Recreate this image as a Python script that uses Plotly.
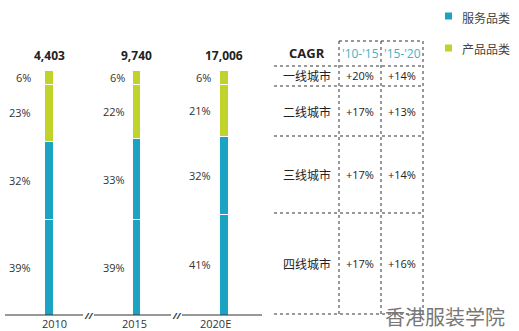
import plotly.graph_objects as go

# ---- data ----
years = ["2010", "2015", "2020E"]
totals = ["4,403", "9,740", "17,006"]
# shares from the bottom of each bar upward
share_seg1 = [39, 39, 41]   # 服务品类 (lower)
share_seg2 = [32, 33, 32]   # 服务品类 (upper)
share_seg3 = [23, 22, 21]   # 产品品类 (lower)
share_seg4 = [6, 6, 6]      # 产品品类 (upper)

cities = ["一线城市", "二线城市", "三线城市", "四线城市"]
cagr_10_15 = ["+20%", "+17%", "+17%", "+17%"]
cagr_15_20 = ["+14%", "+13%", "+14%", "+16%"]
period_labels = ["'10-'15", "'15-'20"]
legend_names = ["服务品类", "产品品类"]

# ---- style ----
W, H = 519, 331
TEAL = "#1aa3c2"
GREEN = "#c0d32a"
TEAL_TXT = "#3fb4c6"
INK = "#222222"
LATIN = "Open Sans, Noto Sans CJK SC, sans-serif"
CJK = "Noto Sans CJK SC, sans-serif"


def px(x):
    return x / W


def py(y):
    return 1 - y / H


def note(x, y, text, font, xanchor="center", yanchor="middle", **kw):
    return dict(x=px(x), y=py(y), xref="paper", yref="paper", text=text, showarrow=False,
                xanchor=xanchor, yanchor=yanchor, font=font, **kw)


segments = [share_seg1, share_seg2, share_seg3, share_seg4]
colors = [TEAL, TEAL, GREEN, GREEN]
xs = list(range(len(years)))

fig = go.Figure()
for seg, col in zip(segments, colors):
    fig.add_trace(go.Bar(
        x=xs, y=seg, width=0.1, marker=dict(color=col, line=dict(color="white", width=1)),
        showlegend=False, hoverinfo="skip",
    ))

annotations = []
shapes = []

# percentage labels left of each bar, at each segment's midpoint
label_shift = [-16, -10, -11]
year_shift = [5, -2, -9]
for i in xs:
    base = 0
    for seg in segments:
        v = seg[i]
        annotations.append(dict(
            x=i, y=base + v / 2, xref="x", yref="y", text=f"{v}%", showarrow=False,
            xanchor="right", yanchor="middle", xshift=label_shift[i],
            font=dict(family=LATIN, size=11, color="#333"),
        ))
        base += v
    annotations.append(dict(
        x=i, y=base, xref="x", yref="y", text=f"<b>{totals[i]}</b>", showarrow=False,
        xanchor="center", yanchor="bottom", yshift=4,
        font=dict(family=LATIN, size=12, color=INK),
    ))
    annotations.append(dict(
        x=i, y=0, xref="x", yref="y", text=years[i], showarrow=False,
        xanchor="center", yanchor="top", xshift=year_shift[i], yshift=1,
        font=dict(family=LATIN, size=11, color="#333"),
    ))

# baseline with axis-break marks
axis_y = 315
for x0, x1 in [(5, 83), (94, 171), (182, 262)]:
    shapes.append(dict(type="line", xref="paper", yref="paper",
                       x0=px(x0), x1=px(x1), y0=py(axis_y), y1=py(axis_y),
                       line=dict(color="#333", width=1.2)))
for xb in [88.5, 176.5]:
    annotations.append(note(xb, axis_y, "<i><b>//</b></i>",
                            dict(family=LATIN, size=9, color="#333")))

# CAGR table grid (dotted)
col_x = [339, 381, 423]
grid_top, grid_bot = 41, 314
row_y = [66, 86, 136, 213]
dot = dict(color="#333", width=1, dash="dot")
for cx in col_x:
    shapes.append(dict(type="line", xref="paper", yref="paper",
                       x0=px(cx), x1=px(cx), y0=py(grid_top), y1=py(grid_bot), line=dot))
shapes.append(dict(type="line", xref="paper", yref="paper",
                   x0=px(col_x[0]), x1=px(col_x[-1]), y0=py(grid_top), y1=py(grid_top), line=dot))
for ry in row_y + [grid_bot]:
    shapes.append(dict(type="line", xref="paper", yref="paper",
                       x0=px(274), x1=px(col_x[-1]), y0=py(ry), y1=py(ry), line=dot))

label_x = 307
val_x = [360, 402]
annotations.append(note(label_x, 53, "<b>CAGR</b>", dict(family=LATIN, size=13, color=INK)))
for vx, lab in zip(val_x, period_labels):
    annotations.append(note(vx, 54, lab, dict(family=LATIN, size=12, color=TEAL_TXT)))

row_edges = row_y + [grid_bot]
for r, city in enumerate(cities):
    cy = (row_edges[r] + row_edges[r + 1]) / 2
    annotations.append(note(label_x, cy, city, dict(family=CJK, size=12, color=INK)))
    for vx, vals in zip(val_x, [cagr_10_15, cagr_15_20]):
        annotations.append(note(vx, cy, vals[r], dict(family=LATIN, size=11, color=INK)))

# legend
for (ly, name, col) in [(16, legend_names[0], TEAL), (48, legend_names[1], GREEN)]:
    shapes.append(dict(type="rect", xref="paper", yref="paper", line=dict(width=0),
                       x0=px(445), x1=px(452), y0=py(ly - 3.5), y1=py(ly + 3.5), fillcolor=col))
    annotations.append(note(460, ly + 1, name, dict(family=CJK, size=12, color="#444"),
                            xanchor="left"))

# watermark
annotations.append(note(445, 316, "香港服装学院",
                        dict(family="Noto Sans CJK SC", size=20, color="#777")))

# axes: 2.45 px per percentage point, baseline at y=315
fig.update_layout(
    width=W, height=H, margin=dict(l=0, r=0, t=0, b=0),
    paper_bgcolor="white", plot_bgcolor="white", barmode="stack",
    xaxis=dict(range=[-49 / 87.5, (W - 49) / 87.5], domain=[0, 1], visible=False),
    yaxis=dict(range=[0, axis_y / 2.45], domain=[(H - axis_y) / H, 1], visible=False),
    shapes=shapes, annotations=annotations,
)

fig.write_html("out.html")
